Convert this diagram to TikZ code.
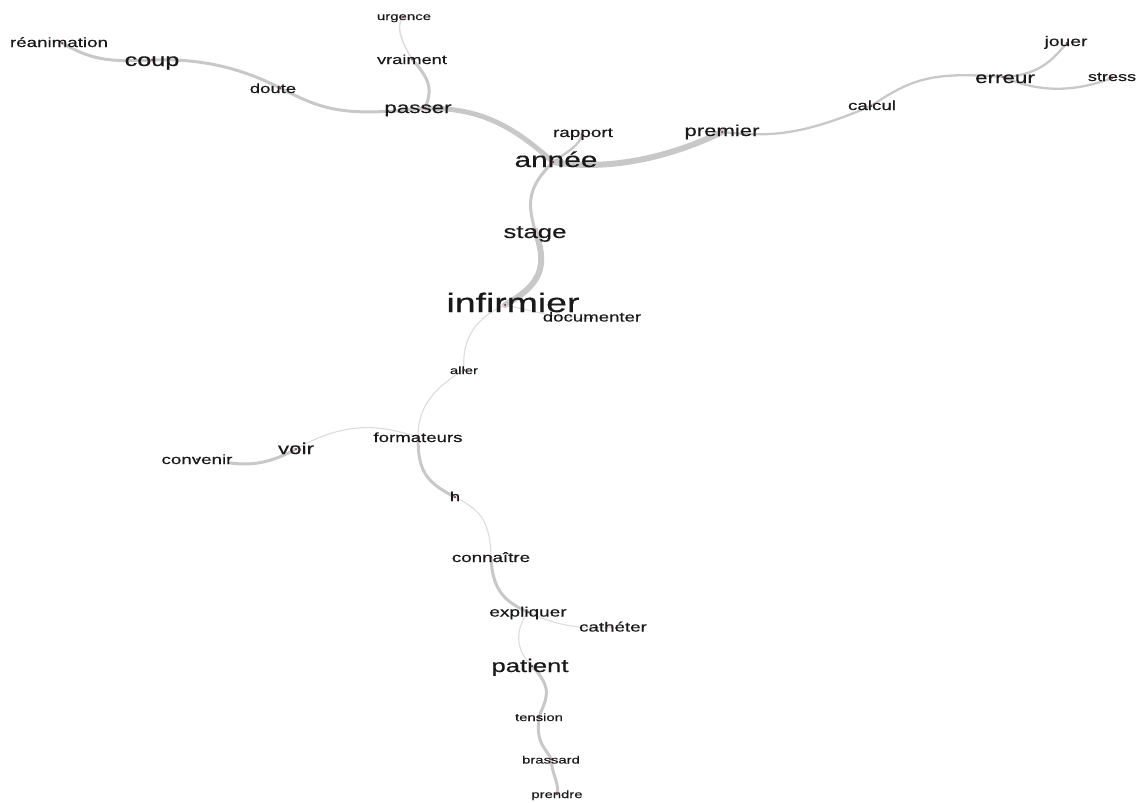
\documentclass[tikz,border=0pt]{standalone}
\usepackage{fontspec}
\setmainfont{Liberation Sans}
\newfontfamily\labfont{Liberation Sans}[FakeBold=0.35]
\definecolor{edgegray}{RGB}{200,200,200}
\definecolor{thingray}{RGB}{220,220,220}
\definecolor{dotred}{RGB}{120,20,20}
\newcommand{\fsz}[1]{\labfont\fontsize{#1}{#1}\selectfont}
\newcommand{\wlab}[1]{\scalebox{1.4}[1]{#1}}
\tikzset{
  edge/.style={draw=edgegray, line cap=round},
  ethick/.style={edge, line width=6pt},
  ebig/.style={edge, line width=5pt},
  emed/.style={edge, line width=3pt},
  esm/.style={edge, line width=2.3pt},
  ethin/.style={draw=thingray, line cap=round, line width=1.1pt},
  lab/.style={anchor=base, inner sep=0pt, text=black!90},
  vdot/.style={fill=dotred, draw=none},
}
\begin{document}
\begin{tikzpicture}[x=1pt, y=-1pt]
\useasboundingbox (0,0) rectangle (1143,803);
% vertices
\coordinate (reanimation) at (62,43);
\coordinate (coup) at (152,60);
\coordinate (doute) at (280,88);
\coordinate (passer) at (425,108);
\coordinate (vraiment) at (412,59);
\coordinate (urgence) at (403,17);
\coordinate (rapport) at (582,134);
\coordinate (annee) at (553,162);
\coordinate (premier) at (722,132);
\coordinate (calcul) at (871,106);
\coordinate (erreur) at (1003,77);
\coordinate (jouer) at (1067,43);
\coordinate (stress) at (1112,78);
\coordinate (stage) at (535,230);
\coordinate (infirmier) at (505,305);
\coordinate (documenter) at (592,318);
\coordinate (aller) at (464,370);
\coordinate (formateurs) at (418,437);
\coordinate (voir) at (296,449);
\coordinate (convenir) at (197,459);
\coordinate (convenir-end) at (230,463);
\coordinate (h) at (455,497);
\coordinate (connaitre) at (491,557);
\coordinate (expliquer) at (528,612);
\coordinate (catheter) at (612,627);
\coordinate (patient) at (532,666);
\coordinate (tension) at (539,717);
\coordinate (brassard) at (551,759);
\coordinate (prendre) at (557,794);
% edges
\draw[emed] (reanimation) .. controls (92,60) and (108,62) .. (coup);
\draw[emed] (coup) .. controls (205,58) and (245,70) .. (doute);
\draw[emed] (doute) .. controls (320,108) and (340,118) .. (passer);
\draw[ebig] (passer) .. controls (480,108) and (512,125) .. (annee);
\draw[emed] (passer) .. controls (435,85) and (425,75) .. (vraiment);
\draw[ethin, line width=1.5pt] (vraiment) .. controls (400,40) and (396,25) .. (urgence);
\draw[esm] (annee) .. controls (570,150) and (580,145) .. (rapport);
\draw[ethick] (annee) .. controls (600,170) and (660,162) .. (premier);
\draw[esm] (premier) .. controls (770,137) and (800,136) .. (calcul);
\draw[esm] (calcul) .. controls (910,80) and (930,71) .. (erreur);
\draw[esm] (erreur) .. controls (1040,75) and (1052,60) .. (jouer);
\draw[esm] (erreur) .. controls (1040,93) and (1075,92) .. (stress);
\draw[emed] (annee) .. controls (530,185) and (526,200) .. (stage);
\draw[ethick] (stage) .. controls (546,262) and (546,282) .. (infirmier);
\draw[ethin] (infirmier) .. controls (530,310) and (560,320) .. (documenter);
\draw[ethin] (infirmier) .. controls (470,320) and (462,345) .. (aller);
\draw[ethin] (aller) .. controls (430,390) and (418,410) .. (formateurs);
\draw[ethin] (formateurs) .. controls (385,427) and (350,418) .. (voir);
\draw[emed] (voir) .. controls (272,462) and (255,466) .. (convenir-end);
\draw[emed] (formateurs) .. controls (418,470) and (425,482) .. (h);
\draw[ethin] (h) .. controls (480,510) and (490,520) .. (connaitre);
\draw[emed] (connaitre) .. controls (492,590) and (505,602) .. (expliquer);
\draw[ethin] (expliquer) .. controls (555,625) and (580,630) .. (catheter);
\draw[ethin] (expliquer) .. controls (515,630) and (515,650) .. (patient);
\draw[emed] (patient) .. controls (555,690) and (545,700) .. (tension);
\draw[emed] (tension) .. controls (535,745) and (548,750) .. (brassard);
\draw[emed] (brassard) .. controls (552,775) and (560,785) .. (prendre);
% labels
\node[lab, font=\fsz{13.4}] (l-reanimation) at (59,47) {\wlab{réanimation}};
\node[lab, font=\fsz{18}] (l-coup) at (152,66) {\wlab{coup}};
\node[lab, font=\fsz{13.2}] (l-doute) at (273,93) {\wlab{doute}};
\node[lab, font=\fsz{16}] (l-passer) at (418,113) {\wlab{passer}};
\node[lab, font=\fsz{13}] (l-vraiment) at (412,64) {\wlab{vraiment}};
\node[lab, font=\fsz{10.7}] (l-urgence) at (404,20) {\wlab{urgence}};
\node[lab, font=\fsz{13.5}] (l-rapport) at (583,137) {\wlab{rapport}};
\node[lab, font=\fsz{21.3}] (l-annee) at (556,167) {\wlab{année}};
\node[lab, font=\fsz{15.8}] (l-premier) at (722,136) {\wlab{premier}};
\node[lab, font=\fsz{13.4}] (l-calcul) at (872,110) {\wlab{calcul}};
\node[lab, font=\fsz{16}] (l-erreur) at (1005,83) {\wlab{erreur}};
\node[lab, font=\fsz{13.8}] (l-jouer) at (1066,46) {\wlab{jouer}};
\node[lab, font=\fsz{12.9}] (l-stress) at (1112,81) {\wlab{stress}};
\node[lab, font=\fsz{18.4}] (l-stage) at (535,238) {\wlab{stage}};
\node[lab, font=\fsz{26.7}] (l-infirmier) at (513,312) {\wlab{infirmier}};
\node[lab, font=\fsz{13.3}] (l-documenter) at (592,321.5) {\wlab{documenter}};
\node[lab, font=\fsz{10.6}] (l-aller) at (464,374) {\wlab{aller}};
\node[lab, font=\fsz{13.3}] (l-formateurs) at (418,442) {\wlab{formateurs}};
\node[lab, font=\fsz{16}] (l-voir) at (296,454) {\wlab{voir}};
\node[lab, font=\fsz{13.4}] (l-convenir) at (197,464) {\wlab{convenir}};
\node[lab, font=\fsz{13}] (l-h) at (455,501) {\wlab{h}};
\node[lab, font=\fsz{13.4}] (l-connaitre) at (491,562) {\wlab{connaître}};
\node[lab, font=\fsz{13.6}] (l-expliquer) at (528,616.5) {\wlab{expliquer}};
\node[lab, font=\fsz{13.4}] (l-catheter) at (613,631.5) {\wlab{cathéter}};
\node[lab, font=\fsz{18.3}] (l-patient) at (530,672) {\wlab{patient}};
\node[lab, font=\fsz{10.6}] (l-tension) at (539,721) {\wlab{tension}};
\node[lab, font=\fsz{10.6}] (l-brassard) at (551,763.5) {\wlab{brassard}};
\node[lab, font=\fsz{10.6}] (l-prendre) at (557,798) {\wlab{prendre}};
% vertex dots
\foreach \v in {reanimation,coup,doute,passer,vraiment,urgence,rapport,annee,premier,calcul,erreur,jouer,stress,stage,infirmier,documenter,aller,formateurs,voir,convenir,h,connaitre,expliquer,catheter,patient,tension,brassard,prendre}
  \fill[vdot] (\v) circle (1pt);
\end{tikzpicture}
\end{document}
